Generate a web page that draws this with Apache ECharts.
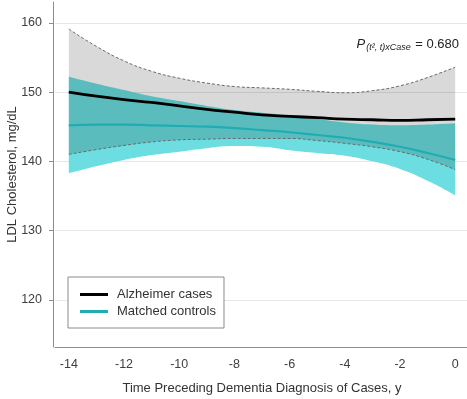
<!DOCTYPE html>
<html>
<head>
<meta charset="utf-8">
<script src="https://cdn.jsdelivr.net/npm/echarts@6/dist/echarts.min.js"></script>
<style>
  html, body { margin: 0; padding: 0; background: #ffffff; }
  #chart { width: 467px; height: 399px; }
</style>
</head>
<body>
<div id="chart"></div>
<script>
// Years before diagnosis (one category per year, even years labelled)
const years = ['-14','-13','-12','-11','-10','-9','-8','-7','-6','-5','-4','-3','-2','-1','0'];

// Alzheimer cases: fitted mean LDL and 95% confidence limits (mg/dL)
const casesMean  = [150.0, 149.4, 148.9, 148.5, 148.0, 147.5, 147.1, 146.7, 146.5, 146.3, 146.1, 146.0, 145.9, 146.0, 146.1];
const casesUpper = [159.1, 156.6, 154.5, 153.0, 152.0, 151.3, 150.8, 150.6, 150.4, 150.1, 149.9, 150.2, 150.9, 152.1, 153.6];
const casesLower = [141.0, 141.7, 142.3, 142.8, 143.1, 143.2, 143.3, 143.3, 143.3, 143.0, 142.6, 142.1, 141.4, 140.3, 138.8];

// Matched controls: fitted mean LDL and 95% confidence limits (mg/dL)
const ctrlMean  = [145.2, 145.3, 145.3, 145.2, 145.1, 145.0, 144.8, 144.5, 144.2, 143.8, 143.4, 142.8, 142.1, 141.2, 140.2];
const ctrlUpper = [152.2, 151.2, 150.3, 149.4, 148.7, 148.0, 147.4, 147.0, 146.6, 146.1, 145.6, 145.3, 145.2, 145.3, 145.5];
const ctrlLower = [138.3, 139.3, 140.2, 140.9, 141.4, 141.9, 142.2, 142.1, 141.6, 141.2, 140.8, 140.0, 138.9, 137.2, 135.1];

const yTicks = [120, 130, 140, 150, 160];

const FONT = 'Liberation Sans, Arial, sans-serif';
const spanOf = (hi, lo) => hi.map((v, i) => +(v - lo[i]).toFixed(2));

const chart = echarts.init(document.getElementById('chart'), null, { renderer: 'canvas' });

chart.setOption({
  animation: false,
  backgroundColor: '#ffffff',
  textStyle: { fontFamily: FONT },
  grid: { left: 55, right: -2, top: 2, bottom: 52, containLabel: false, outerBoundsMode: 'none' },
  title: {
    text: '{p|P}{s|(t², t)xCase}{v| = 0.680}',
    right: 8,
    top: 36,
    padding: 0,
    textStyle: {
      fontWeight: 'normal',
      rich: {
        p: { fontFamily: FONT, fontSize: 13, fontStyle: 'italic', fontWeight: 'normal', color: '#222', lineHeight: 17 },
        s: { fontFamily: FONT, fontSize: 9, fontStyle: 'italic', fontWeight: 'normal', color: '#222', lineHeight: 17, padding: [6, 1, 0, 1] },
        v: { fontFamily: FONT, fontSize: 13, fontWeight: 'normal', color: '#222', lineHeight: 17 }
      }
    }
  },
  legend: {
    data: [
      { name: 'Alzheimer cases', icon: 'rect' },
      { name: 'Matched controls', icon: 'rect' }
    ],
    orient: 'vertical',
    left: 68,
    top: 277,
    padding: [10, 8, 9, 12],
    itemWidth: 28,
    itemHeight: 3,
    itemGap: 2,
    borderColor: '#8a8a8a',
    borderWidth: 1,
    backgroundColor: '#ffffff',
    textStyle: { fontFamily: FONT, fontSize: 13, color: '#333', padding: [0, 0, 0, 4], lineHeight: 15 }
  },
  xAxis: {
    type: 'category',
    data: years,
    boundaryGap: true,
    name: 'Time Preceding Dementia Diagnosis of Cases, y',
    nameLocation: 'middle',
    nameGap: 35,
    nameMoveOverlap: false,
    nameTextStyle: { fontFamily: FONT, fontSize: 13, color: '#333' },
    axisLine: { lineStyle: { color: '#8c8c8c', width: 1 } },
    axisTick: { interval: 1, alignWithLabel: true, length: 5, lineStyle: { color: '#8c8c8c' } },
    axisLabel: { interval: 1, margin: 11, fontFamily: FONT, fontSize: 12.5, color: '#404040' },
    splitLine: { show: false }
  },
  yAxis: {
    type: 'value',
    min: 113.2,
    max: 163,
    offset: 2,
    name: 'LDL Cholesterol, mg/dL',
    nameLocation: 'middle',
    nameGap: 34,
    nameMoveOverlap: false,
    nameTextStyle: { fontFamily: FONT, fontSize: 13, color: '#333' },
    axisLine: { show: true, lineStyle: { color: '#8c8c8c', width: 1 } },
    axisTick: { show: true, length: 4, customValues: yTicks, lineStyle: { color: '#8c8c8c' } },
    axisLabel: {
      margin: 11, fontFamily: FONT, fontSize: 12.5, color: '#404040',
      customValues: yTicks
    },
    splitLine: { show: true, lineStyle: { color: '#e6e6e6', width: 1 } }
  },
  series: [
    {
      name: 'ctrlBandBase', type: 'line', stack: 'ctrl', data: ctrlLower,
      smooth: true, symbol: 'none', silent: true,
      lineStyle: { opacity: 0 }
    },
    {
      name: 'ctrlBand', type: 'line', stack: 'ctrl', data: spanOf(ctrlUpper, ctrlLower),
      smooth: true, symbol: 'none', silent: true,
      lineStyle: { opacity: 0 },
      areaStyle: { color: '#6cdde0', opacity: 1 }
    },
    {
      name: 'casesBandBase', type: 'line', stack: 'cases', data: casesLower,
      smooth: true, symbol: 'none', silent: true,
      lineStyle: { color: '#6a6a6a', width: 1, type: [3, 2] }
    },
    {
      name: 'casesBand', type: 'line', stack: 'cases', data: spanOf(casesUpper, casesLower),
      smooth: true, symbol: 'none', silent: true,
      lineStyle: { color: '#6a6a6a', width: 1, type: [3, 2] },
      areaStyle: { color: 'rgba(0,0,0,0.15)', opacity: 1 }
    },
    {
      name: 'Matched controls', type: 'line', data: ctrlMean,
      smooth: true, symbol: 'none',
      color: '#1fadb3',
      lineStyle: { color: '#1fadb3', width: 2.2 }
    },
    {
      name: 'Alzheimer cases', type: 'line', data: casesMean,
      smooth: true, symbol: 'none',
      color: '#000000',
      lineStyle: { color: '#000000', width: 2.8 }
    }
  ]
});
</script>
</body>
</html>
